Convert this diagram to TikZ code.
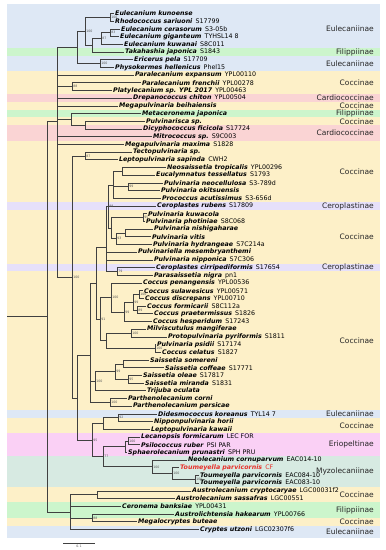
\documentclass[tikz,border=0pt]{standalone}
\usepackage{fontspec}
\setmainfont{DejaVu Sans}
\usepackage{tikz}
\definecolor{eul}{HTML}{DEE8F5}
\definecolor{fil}{HTML}{CCF5CC}
\definecolor{coc}{HTML}{FDF0C8}
\definecolor{car}{HTML}{FAD4D4}
\definecolor{cer}{HTML}{E6E0FA}
\definecolor{eri}{HTML}{FAD0F5}
\definecolor{myz}{HTML}{D7EAE2}
\definecolor{hilite}{HTML}{E8302A}
\newcommand{\taxon}[1]{\textbf{\textit{#1}}}

\begin{document}
\begin{tikzpicture}[
  x=1pt, y=-7.7pt,
  edge/.style={draw=black!75,line width=0.7pt},
  tip/.style={anchor=west,inner xsep=1pt,inner ysep=0pt,font=\fontsize{6.3}{7}\selectfont},
  bs/.style={anchor=west,inner xsep=1.2pt,inner ysep=0pt,font=\fontsize{3.2}{3.5}\selectfont,text=black!65},
  grp/.style={anchor=east,inner sep=0pt,font=\fontsize{7.5}{8}\selectfont,text=black!85},
]
\useasboundingbox (0,-0.753) rectangle (385,70.675);
% subfamily bands
\foreach \a/\b/\c in {-0.23/5.5/eul,5.5/6.5/fil,6.5/8.5/eul,8.5/11.5/coc,11.5/12.5/car,
  12.5/13.5/coc,13.5/14.5/fil,14.5/15.5/coc,15.5/17.5/car,17.5/25.5/coc,25.5/26.5/cer,
  26.5/33.5/coc,33.5/34.5/cer,34.5/52.5/coc,52.5/53.5/eul,53.5/55.5/coc,55.5/58.5/eri,
  58.5/62.5/myz,62.5/64.5/coc,64.5/66.5/fil,66.5/67.5/coc,67.5/69.1/eul}
  \fill[\c] (7,\a) rectangle (380,\b);
\foreach \i/\r/\t in {1/3/Eulecaniinae,2/6/Filippiinae,3/7.5/Eulecaniinae,4/10/Coccinae,
  5/12/Cardiococcinae,6/13/Coccinae,7/14/Filippiinae,8/15/Coccinae,9/16.5/Cardiococcinae,
  10/21.5/Coccinae,11/26/Ceroplastinae,12/30/Coccinae,13/34/Ceroplastinae,14/43.5/Coccinae,
  15/53/Eulecaniinae,16/54.5/Coccinae,17/57/Eriopeltinae,18/60.5/Myzolecaniinae,
  19/63.5/Coccinae,20/65.5/Filippiinae,21/67/Coccinae,22/68.3/Eulecaniinae}
  \node[grp] (g\i) at (374,\r) {\t};

% tips
\foreach \r/\xx/\nm/\cd in {1/114/Eulecanium kunoense/,2/114/Rhodococcus sariuoni/S17799,
  3/120/Eulecanium cerasorum/S3-05b,4/119/Eulecanium giganteum/TYHSL14 8,
  5/123/Eulecanium kuwanai/S8C011,6/124/Takahashia japonica/S1843,
  7/133/Ericerus pela/S17709,8/114/Physokermes hellenicus/Phel15,
  9/134/Paralecanium expansum/YPL00110,10/141/Paralecanium frenchii/YPL00278,
  11/112/Platylecanium sp. YPL 2017/YPL00463,12/132/Drepanococcus chiton/YPL00504,
  13/118/Megapulvinaria beihaiensis/,14/141/Metaceronema japonica/,
  15/145/Pulvinarisca sp./,16/142/Dicyphococcus ficicola/S17724,
  17/152/Mitrococcus sp./S9C003,18/124/Megapulvinaria maxima/S1828,
  19/132/Tectopulvinaria sp./,20/118/Leptopulvinaria sapinda/CWH2,
  21/166/Neosaissetia tropicalis/YPL00296,22/155/Eucalymnatus tessellatus/S1793,
  23/163/Pulvinaria neocellulosa/S3-789d,24/160/Pulvinaria okitsuensis/,
  25/161/Prococcus acutissimus/S3-656d,26/156/Ceroplastes rubens/S17809,
  27/147/Pulvinaria kuwacola/,28/145/Pulvinaria photiniae/S8C068,
  29/153/Pulvinaria nishigaharae/,30/151/Pulvinaria vitis/,
  31/152/Pulvinaria hydrangeae/S7C214a,32/137/Pulvinariella mesembryanthemi/,
  33/153/Pulvinaria nipponica/S7C306,34/155/Ceroplastes cirripediformis/S17654,
  35/153/Parasaissetia nigra/pn1,36/142/Coccus penangensis/YPL00536,
  37/143/Coccus sulawesicus/YPL00571,38/144/Coccus discrepans/YPL00710,
  39/146/Coccus formicarii/S8C112a,40/153/Coccus praetermissus/S1826,
  41/152/Coccus hesperidum/S17243,42/146/Milviscutulus mangiferae/,
  43/167/Protopulvinaria pyriformis/S1811,44/156/Pulvinaria psidii/S17174,
  45/161/Coccus celatus/S1827,46/149/Saissetia somereni/,
  47/164/Saissetia coffeae/S17771,48/142/Saissetia oleae/S17817,
  49/144/Saissetia miranda/S1831,50/146/Trijuba oculata/,
  51/127/Parthenolecanium corni/,52/132/Parthenolecanium persicae/,
  53/157/Didesmococcus koreanus/TYL14 7,54/153/Nipponpulvinaria horii/,
  55/150/Leptopulvinaria kawaii/,56/140/Lecanopsis formicarum/LEC FOR,
  57/140/Psilococcus ruber/PSI PAR,58/127/Sphaerolecanium prunastri/SPH PRU,
  59/187/Neolecanium cornuparvum/EAC014-10,
  61/199/Toumeyella parvicornis/EAC084-10,62/199/Toumeyella parvicornis/EAC083-10,
  63/191/Austrolecanium cryptocaryae/LGC00031f2,64/175/Austrolecanium sassafras/LGC00551,
  65/121/Ceronema banksiae/YPL00431,66/174/Austrolichtensia hakearum/YPL00766,
  67/137/Megalocryptes buteae/,68/199/Cryptes utzoni/LGC02307f6}
  \node[tip] (t\r) at (\xx,\r) {\taxon{\nm}\hspace{0.5em}\cd};
\node[tip,text=hilite] (t60) at (179,60) {\taxon{Toumeyella parvicornis}\hspace{0.5em}CF};

% internal nodes
\coordinate (nA) at (110,1.5);
\coordinate (nB) at (110,3.5);
\coordinate (nC) at (101,4.25);
\coordinate (nK) at (92,5.125);
\coordinate (nE) at (85,3.31);
\coordinate (nG) at (100,7.5);
\coordinate (nEC) at (77,5.41);
\coordinate (nP) at (72,10.5);
\coordinate (nPD) at (85,15.5);
\coordinate (nMJ) at (71,14.75);
\coordinate (nTL) at (85,19.5);
\coordinate (nNE) at (122,21.5);
\coordinate (nNO) at (128,23.5);
\coordinate (nQ) at (113,23.33);
\coordinate (nKP) at (143,27.5);
\coordinate (nNV) at (125,29.5);
\coordinate (nNVH) at (116,30.25);
\coordinate (nKV) at (111,28.875);
\coordinate (nR1) at (108,26.07);
\coordinate (nCP) at (117,34.5);
\coordinate (nW) at (106,31.39);
\coordinate (nCSD) at (139,37.5);
\coordinate (nCFP) at (137,39.5);
\coordinate (nN1) at (133,38.5);
\coordinate (nN2) at (124,39.75);
\coordinate (nN3) at (111,37.875);
\coordinate (nMP) at (131,42.5);
\coordinate (nPC) at (155,44.5);
\coordinate (nMPPC) at (106,43.5);
\coordinate (nN4) at (100,40.69);
\coordinate (nY3) at (96,36.04);
\coordinate (nSC) at (123,46.5);
\coordinate (nOM) at (128,48.5);
\coordinate (nS1) at (115,47.5);
\coordinate (nS2) at (95,48.75);
\coordinate (nPP) at (110,51.5);
\coordinate (nY4) at (90,45.43);
\coordinate (nDN) at (118,53.5);
\coordinate (nDNL) at (103,54.25);
\coordinate (nLP) at (128,56.5);
\coordinate (nLPS) at (125,57.25);
\coordinate (nTT) at (195,61.5);
\coordinate (nT2) at (172,60.75);
\coordinate (nT3) at (152,59.875);
\coordinate (nEM) at (103,58.56);
\coordinate (nDM) at (92,56.41);
\coordinate (nX2) at (77,50.92);
\coordinate (nX) at (72,35.21);
\coordinate (nT1) at (57,14.99);
\coordinate (nAU) at (97,63.5);
\coordinate (nAM) at (92,66.5);
\coordinate (nB1) at (70,65.75);
\coordinate (root) at (47,40.37);
\coordinate (stub) at (7,40.37);

% branches
\draw[edge] (nA) |- (t1.west) (nA) |- (t2.west);
\draw[edge] (nB) |- (t3.west) (nB) |- (t4.west);
\draw[edge] (nC) |- (nB) (nC) |- (t5.west);
\draw[edge] (nK) |- (nC) (nK) |- (t6.west);
\draw[edge] (nE) |- (nA) (nE) |- (nK);
\draw[edge] (nG) |- (t7.west) (nG) |- (t8.west);
\draw[edge] (nEC) |- (nE) (nEC) |- (nG);
\draw[edge] (nP) |- (t10.west) (nP) |- (t11.west);
\draw[edge] (nPD) |- (t15.west) (nPD) |- (t16.west);
\draw[edge] (nMJ) |- (t14.west) (nMJ) |- (nPD);
\draw[edge] (nTL) |- (t19.west) (nTL) |- (t20.west);
\draw[edge] (nNE) |- (t21.west) (nNE) |- (t22.west);
\draw[edge] (nNO) |- (t23.west) (nNO) |- (t24.west);
\draw[edge] (nQ) |- (nNE) (nQ) |- (nNO) (nQ) |- (t25.west);
\draw[edge] (nKP) |- (t27.west) (nKP) |- (t28.west);
\draw[edge] (nNV) |- (t29.west) (nNV) |- (t30.west);
\draw[edge] (nNVH) |- (nNV) (nNVH) |- (t31.west);
\draw[edge] (nKV) |- (nKP) (nKV) |- (nNVH);
\draw[edge] (nR1) |- (nQ) (nR1) |- (t26.west) (nR1) |- (nKV);
\draw[edge] (nCP) |- (t34.west) (nCP) |- (t35.west);
\draw[edge] (nW) |- (nR1) (nW) |- (t32.west) (nW) |- (t33.west) (nW) |- (nCP);
\draw[edge] (nCSD) |- (t37.west) (nCSD) |- (t38.west);
\draw[edge] (nCFP) |- (t39.west) (nCFP) |- (t40.west);
\draw[edge] (nN1) |- (nCSD) (nN1) |- (nCFP);
\draw[edge] (nN2) |- (nN1) (nN2) |- (t41.west);
\draw[edge] (nN3) |- (t36.west) (nN3) |- (nN2);
\draw[edge] (nMP) |- (t42.west) (nMP) |- (t43.west);
\draw[edge] (nPC) |- (t44.west) (nPC) |- (t45.west);
\draw[edge] (nMPPC) |- (nMP) (nMPPC) |- (nPC);
\draw[edge] (nN4) |- (nN3) (nN4) |- (nMPPC);
\draw[edge] (nY3) |- (nW) (nY3) |- (nN4);
\draw[edge] (nSC) |- (t46.west) (nSC) |- (t47.west);
\draw[edge] (nOM) |- (t48.west) (nOM) |- (t49.west);
\draw[edge] (nS1) |- (nSC) (nS1) |- (nOM);
\draw[edge] (nS2) |- (nS1) (nS2) |- (t50.west);
\draw[edge] (nPP) |- (t51.west) (nPP) |- (t52.west);
\draw[edge] (nY4) |- (nY3) (nY4) |- (nS2) (nY4) |- (nPP);
\draw[edge] (nDN) |- (t53.west) (nDN) |- (t54.west);
\draw[edge] (nDNL) |- (nDN) (nDNL) |- (t55.west);
\draw[edge] (nLP) |- (t56.west) (nLP) |- (t57.west);
\draw[edge] (nLPS) |- (nLP) (nLPS) |- (t58.west);
\draw[edge] (nTT) |- (t61.west) (nTT) |- (t62.west);
\draw[edge] (nT2) |- (t60.west) (nT2) |- (nTT);
\draw[edge] (nT3) |- (t59.west) (nT3) |- (nT2);
\draw[edge] (nEM) |- (nLPS) (nEM) |- (nT3);
\draw[edge] (nDM) |- (nDNL) (nDM) |- (nEM);
\draw[edge] (nX2) |- (nY4) (nX2) |- (nDM);
\draw[edge] (nX) |- (nTL) (nX) |- (nX2);
\draw[edge] (nT1) |- (nEC) (nT1) |- (t9.west) (nT1) |- (nP) (nT1) |- (t12.west)
  (nT1) |- (t13.west) (nT1) |- (nMJ) (nT1) |- (t17.west) (nT1) |- (t18.west) (nT1) |- (nX);
\draw[edge] (nAU) |- (t63.west) (nAU) |- (t64.west);
\draw[edge] (nAM) |- (t66.west) (nAM) |- (t67.west);
\draw[edge] (nB1) |- (nAU) (nB1) |- (t65.west) (nB1) |- (nAM) (nB1) |- (t68.west);
\draw[edge] (root) |- (nT1) (root) |- (nB1);
\draw[edge] (stub) -- (root);

% support values
\foreach \n/\v in {nA/100,nB/83,nC/87,nE/100,nG/100,nP/88,nTL/87,nNO/99,nR1/88,nKP/95,
  nNVH/93,nCP/79,nX/100,nN4/91,nN3/100,nCSD/100,nN1/99,nCFP/89,nN2/99,nMP/100,nPC/100,
  nS2/100,nS1/99,nOM/95,nPP/100,nDN/92,nDM/95,nLP/100,nEM/77,nT3/100,nT2/100,nTT/100,nAM/88}
  \node[bs] (b\n) at (\n) {\v};

% scale bar
\coordinate (sbL) at (63,69.77);
\coordinate (sbR) at (95,69.77);
\draw[edge] (sbL) -- (sbR);
\node[bs,anchor=north] (sbT) at (79,70.0) {0.1};
\end{tikzpicture}
\end{document}
